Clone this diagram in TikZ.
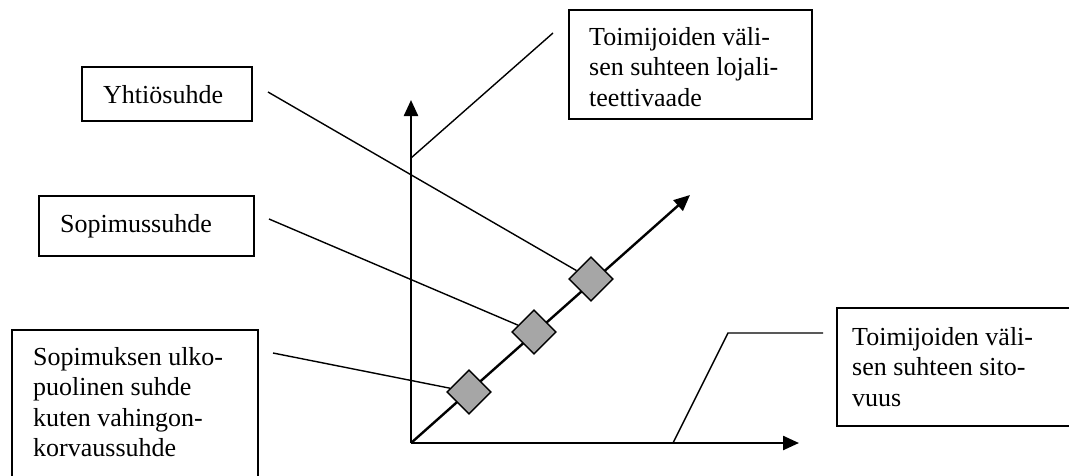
\documentclass[tikz,border=0pt]{standalone}
\usepackage{fontspec}
\setmainfont{Liberation Serif}
\usetikzlibrary{arrows.meta}
\begin{document}
\begin{tikzpicture}[x=1pt,y=-1pt,
  box/.style={draw,line width=1.6pt,rectangle,inner sep=0pt},
  txt/.style={inner sep=0pt,align=left,font=\fontsize{26}{30.5}\selectfont},
  axis/.style={line width=2.4pt,-{Triangle[length=16pt,width=14pt]}},
  conn/.style={line width=1.4pt},
  diamondmark/.style={draw,line width=1.4pt,fill=gray!70,rectangle,rotate=45,minimum size=31pt,inner sep=0pt}]
\clip (0,0) rectangle (1069,475);
\useasboundingbox (0,0) rectangle (1069,475);
% boxes
\node[box,minimum width=170pt,minimum height=54pt] (yb) at (167,94) {};
\node[box,minimum width=215pt,minimum height=60pt] (sb) at (146.5,226) {};
\node[box,minimum width=246pt,minimum height=170pt] (kb) at (135,415) {};
\node[box,minimum width=243pt,minimum height=109pt] (tb) at (690.5,64.5) {};
\node[box,minimum width=243pt,minimum height=118pt] (rb) at (958.5,367) {};
% texts
\node[txt,anchor=base west] (yt) at (103,103) {Yhtiösuhde};
\node[txt,anchor=base west] (st) at (60,232) {Sopimussuhde};
\node[txt,anchor=north west] (kt) at (33,347) {Sopimuksen ulko-\\puolinen suhde\\kuten vahingon-\\korvaussuhde};
\node[txt,anchor=north west] (tt) at (589,27) {Toimijoiden väli-\\sen suhteen lojali-\\teettivaade};
\node[txt,anchor=north west] (rt) at (852,327) {Toimijoiden väli-\\sen suhteen sito-\\vuus};
% axes
\coordinate (O) at (411,443);
\coordinate (Y) at (411,100);
\coordinate (X) at (799,443);
\coordinate (D) at (690,195);
\draw[axis] (O) -- (Y);
\draw[axis] (O) -- (X);
\draw[axis] (O) -- (D);
% diamonds
\node[diamondmark] (d1) at (469,392) {};
\node[diamondmark] (d2) at (534,332) {};
\node[diamondmark] (d3) at (591,279) {};
% connectors
\coordinate (ys) at (268,92);
\coordinate (ss) at (269,219);
\coordinate (ks) at (273,353);
\draw[conn] (ys) -- (d3);
\draw[conn] (ss) -- (d2);
\draw[conn] (ks) -- (d1);
\coordinate (ta) at (411,158);
\coordinate (te) at (553,33);
\draw[conn] (ta) -- (te);
\coordinate (ra) at (673,443);
\coordinate (rm) at (728,333);
\coordinate (re) at (823,333);
\draw[conn] (ra) -- (rm) -- (re);
\end{tikzpicture}
\end{document}
